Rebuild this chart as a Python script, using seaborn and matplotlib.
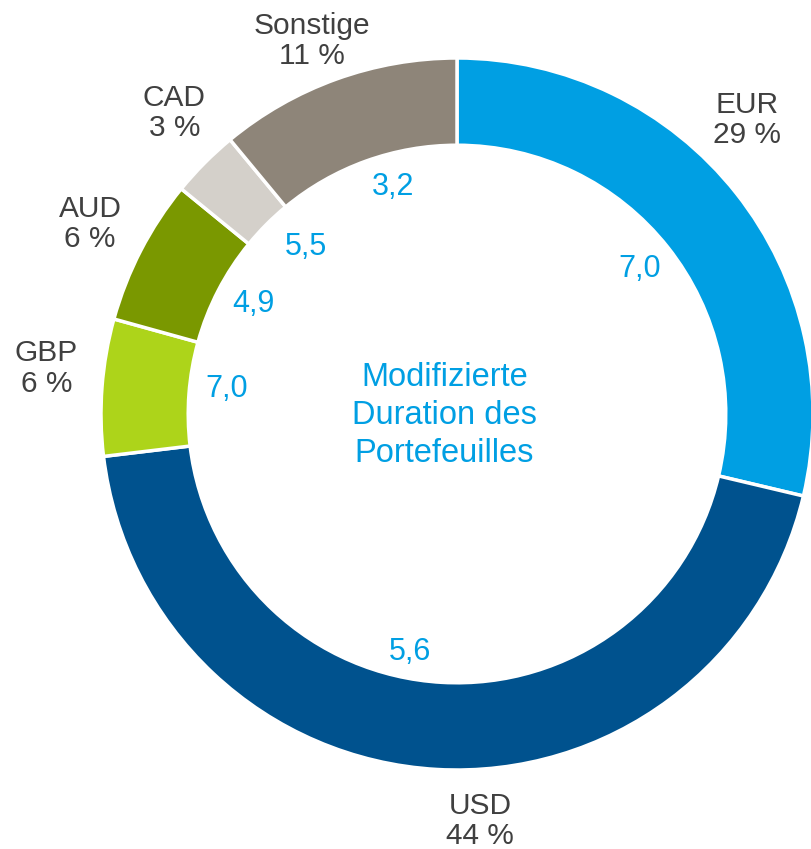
import numpy as np
import matplotlib.pyplot as plt
import seaborn as sns

# Currency split of the portfolio (share in %) and modified duration
currencies = ["EUR", "USD", "GBP", "AUD", "CAD", "Sonstige"]
shares = [28.7, 44.4, 6.2, 6.6, 3.1, 11.0]
share_labels = ["29 %", "44 %", "6 %", "6 %", "3 %", "11 %"]
durations = ["7,0", "5,6", "7,0", "4,9", "5,5", "3,2"]

colors = ["#009FE3", "#00528E", "#ADD41A", "#7A9800", "#D4D0CA", "#8E8579"]
text_blue = "#009FE3"
text_grey = "#404040"

sns.set_theme(style="white")
plt.rcParams["font.family"] = ["Liberation Sans", "DejaVu Sans"]

fig = plt.figure(figsize=(8.11, 8.49), dpi=100)
ax = fig.add_axes([0, 0, 1, 1])

wedges, _ = ax.pie(
    shares,
    colors=colors,
    startangle=90,
    counterclock=False,
    radius=1.0,
    wedgeprops=dict(width=0.245, edgecolor="white", linewidth=2.5),
)

# label placement tweaks (degrees counter-clockwise, radius) to sit like the original
outer_shift = [7, 6.5, -2, 0, -2, 1.5]
outer_r = [1.16, 1.145, 1.16, 1.16, 1.16, 1.125]
inner_shift = [0, -8, -2, -1, -3, -4]
inner_r = [0.655, 0.683, 0.65, 0.65, 0.632, 0.663]

for i, w in enumerate(wedges):
    mid = (w.theta1 + w.theta2) / 2
    a = np.deg2rad(mid + outer_shift[i])
    ax.text(
        outer_r[i] * np.cos(a), outer_r[i] * np.sin(a),
        f"{currencies[i]}\n{share_labels[i]}",
        ha="center", va="center", fontsize=21.5, color=text_grey, linespacing=1.1,
    )
    b = np.deg2rad(mid + inner_shift[i])
    ax.text(
        inner_r[i] * np.cos(b), inner_r[i] * np.sin(b), durations[i],
        ha="center", va="center", fontsize=22, color=text_blue,
    )

ax.text(
    -0.035, -0.005, "Modifizierte\nDuration des\nPortefeuilles",
    ha="center", va="center", fontsize=23.5, color=text_blue, linespacing=1.3,
)

# map the unit circle onto the pixel layout of the original
ax.set_aspect("auto")
ax.set_xlim(-457 / 356, (811 - 457) / 356)
ax.set_ylim(-(849 - 414) / 356, 414 / 356)
ax.axis("off")

fig.savefig("out.png", dpi=100)
